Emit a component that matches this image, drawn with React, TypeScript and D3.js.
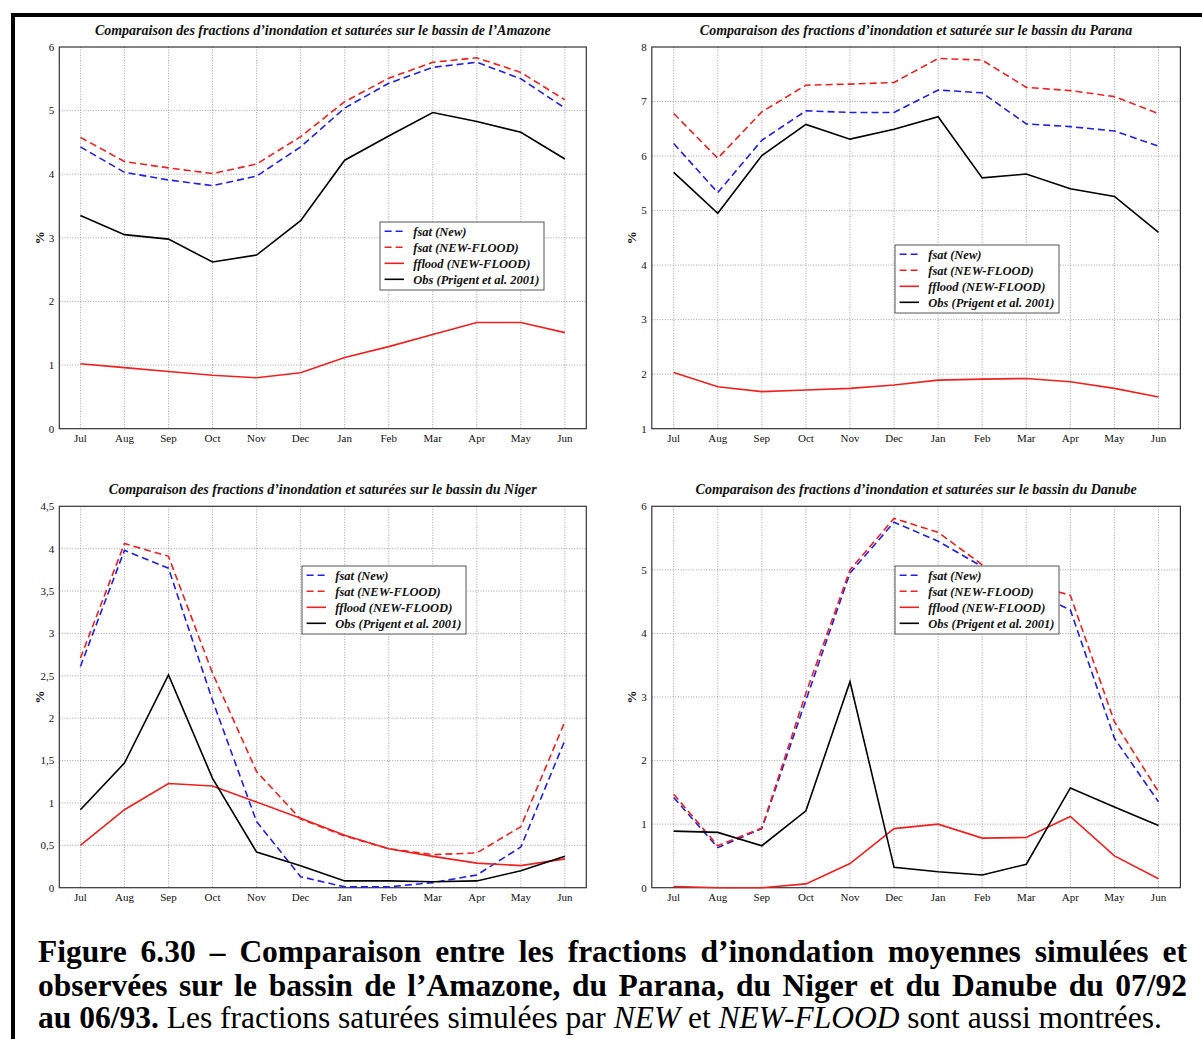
import React, { useEffect, useRef } from "react";
import * as d3 from "d3";

const months = ["Jul", "Aug", "Sep", "Oct", "Nov", "Dec", "Jan", "Feb", "Mar", "Apr", "May", "Jun"];
const seriesLabels = ["fsat (New)", "fsat (NEW-FLOOD)", "fflood (NEW-FLOOD)", "Obs (Prigent et al. 2001)"];

const amazonFsatNew = [4.43, 4.03, 3.91, 3.82, 3.97, 4.43, 5.04, 5.43, 5.68, 5.76, 5.5, 5.04];
const amazonFsatFlood = [4.58, 4.2, 4.1, 4.01, 4.16, 4.59, 5.14, 5.51, 5.76, 5.83, 5.6, 5.17];
const amazonFflood = [1.02, 0.96, 0.9, 0.84, 0.8, 0.88, 1.12, 1.29, 1.48, 1.67, 1.67, 1.51];
const amazonObs = [3.35, 3.05, 2.98, 2.62, 2.73, 3.27, 4.22, 4.6, 4.97, 4.83, 4.66, 4.24];

const paranaFsatNew = [6.23, 5.33, 6.29, 6.83, 6.8, 6.8, 7.21, 7.16, 6.59, 6.54, 6.46, 6.18];
const paranaFsatFlood = [6.78, 5.96, 6.81, 7.3, 7.32, 7.35, 7.79, 7.76, 7.26, 7.2, 7.09, 6.78];
const paranaFflood = [2.03, 1.77, 1.68, 1.71, 1.74, 1.8, 1.89, 1.91, 1.92, 1.86, 1.74, 1.58];
const paranaObs = [5.7, 4.95, 6.01, 6.58, 6.31, 6.49, 6.72, 5.6, 5.67, 5.4, 5.26, 4.6];

const nigerFsatNew = [2.61, 3.98, 3.77, 2.21, 0.78, 0.13, 0.01, 0.01, 0.06, 0.15, 0.48, 1.74];
const nigerFsatFlood = [2.71, 4.06, 3.91, 2.53, 1.37, 0.81, 0.61, 0.46, 0.39, 0.41, 0.72, 1.96];
const nigerFflood = [0.5, 0.92, 1.23, 1.2, 1.01, 0.82, 0.62, 0.46, 0.37, 0.29, 0.26, 0.34];
const nigerObs = [0.92, 1.47, 2.51, 1.29, 0.42, 0.26, 0.08, 0.08, 0.07, 0.08, 0.2, 0.37];

const danubeFsatNew = [1.42, 0.63, 0.93, 2.95, 4.95, 5.75, 5.45, 5.05, 4.7, 4.37, 2.35, 1.35];
const danubeFsatFlood = [1.47, 0.66, 0.94, 3.06, 5.0, 5.81, 5.59, 5.08, 4.8, 4.6, 2.61, 1.51];
const danubeFflood = [0.02, 0.0, 0.0, 0.06, 0.38, 0.93, 1.0, 0.78, 0.79, 1.12, 0.5, 0.14];
const danubeObs = [0.89, 0.87, 0.66, 1.21, 3.24, 0.32, 0.25, 0.2, 0.37, 1.57, 1.27, 0.98];

const amazonTicks = [0, 1, 2, 3, 4, 5, 6];
const paranaTicks = [1, 2, 3, 4, 5, 6, 7, 8];
const nigerTicks = [0, 0.5, 1, 1.5, 2, 2.5, 3, 3.5, 4, 4.5];
const danubeTicks = [0, 1, 2, 3, 4, 5, 6];

const titles = [
  "Comparaison des fractions d\u2019inondation et saturées sur le bassin de l\u2019Amazone",
  "Comparaison des fractions d\u2019inondation et saturée sur le bassin du Parana",
  "Comparaison des fractions d\u2019inondation et saturées sur le bassin du Niger",
  "Comparaison des fractions d\u2019inondation et saturées sur le bassin du Danube",
];

const captionLine1 = "Figure 6.30 \u2013 Comparaison entre les fractions d\u2019inondation moyennes simulées et";
const captionLine2 = "observées sur le bassin de l\u2019Amazone, du Parana, du Niger et du Danube du 07/92";
const captionLine3 = [
  { t: "au 06/93.", w: "bold", s: "normal" },
  { t: " Les fractions saturées simulées par ", w: "normal", s: "normal" },
  { t: "NEW", w: "normal", s: "italic" },
  { t: " et ", w: "normal", s: "normal" },
  { t: "NEW-FLOOD", w: "normal", s: "italic" },
  { t: " sont aussi montrées.", w: "normal", s: "normal" },
];

const FONT = "'Liberation Serif', 'Times New Roman', serif";
const BLUE = "#1f1fe6";
const RED = "#ee2020";
const BLACK = "#000000";

const seriesStyles = [
  { color: BLUE, dash: "7,4" },
  { color: RED, dash: "7,4" },
  { color: RED, dash: null },
  { color: BLACK, dash: null },
];

const panels = [
  { left: 59.3, right: 586.3, top: 47, bottom: 428.7, jul: 80.4, jun: 564.9, ticks: amazonTicks,
    series: [amazonFsatNew, amazonFsatFlood, amazonFflood, amazonObs], legend: [380, 222], titleY: 35 },
  { left: 651.8, right: 1180.4, top: 47, bottom: 428.7, jul: 673.7, jun: 1158.5, ticks: paranaTicks,
    series: [paranaFsatNew, paranaFsatFlood, paranaFflood, paranaObs], legend: [895, 245], titleY: 35 },
  { left: 59.3, right: 586.3, top: 506.3, bottom: 887.7, jul: 80.4, jun: 564.9, ticks: nigerTicks,
    series: [nigerFsatNew, nigerFsatFlood, nigerFflood, nigerObs], legend: [302, 566], titleY: 494 },
  { left: 651.8, right: 1180.4, top: 506.3, bottom: 887.7, jul: 673.7, jun: 1158.5, ticks: danubeTicks,
    series: [danubeFsatNew, danubeFsatFlood, danubeFflood, danubeObs], legend: [895, 566], titleY: 494 },
];

function fmt(v: number) {
  return String(v).replace(".", ",");
}

function drawPanel(svg: any, p: any, title: string) {
  const x = d3.scalePoint<string>().domain(months).range([p.jul, p.jun]);
  const y = d3.scaleLinear().domain([p.ticks[0], p.ticks[p.ticks.length - 1]]).range([p.bottom, p.top]);
  const g = svg.append("g");

  g.append("rect").attr("x", p.left).attr("y", p.top).attr("width", p.right - p.left).attr("height", p.bottom - p.top).attr("fill", "#fff");

  g.selectAll(null).data(months).join("line")
    .attr("x1", (d: string) => x(d)).attr("x2", (d: string) => x(d))
    .attr("y1", p.top).attr("y2", p.bottom)
    .attr("stroke", "#8a8a8a").attr("stroke-width", 0.8).attr("stroke-dasharray", "1,1.6");
  g.selectAll(null).data(p.ticks.slice(1, -1)).join("line")
    .attr("x1", p.left).attr("x2", p.right)
    .attr("y1", (d: number) => y(d)).attr("y2", (d: number) => y(d))
    .attr("stroke", "#8a8a8a").attr("stroke-width", 0.8).attr("stroke-dasharray", "1,1.6");

  g.append("rect").attr("x", p.left).attr("y", p.top).attr("width", p.right - p.left).attr("height", p.bottom - p.top)
    .attr("fill", "none").attr("stroke", "#333").attr("stroke-width", 1.2);

  g.selectAll(null).data(p.ticks).join("text")
    .attr("x", p.left - 5).attr("y", (d: number) => y(d)).attr("dy", "0.35em")
    .attr("text-anchor", "end").attr("font-family", FONT).attr("font-size", 11).attr("fill", "#111")
    .text((d: number) => fmt(d));

  g.selectAll(null).data(months).join("text")
    .attr("x", (d: string) => x(d)).attr("y", p.bottom + 13)
    .attr("text-anchor", "middle").attr("font-family", FONT).attr("font-size", 11).attr("fill", "#111")
    .text((d: string) => d);

  g.append("text")
    .attr("transform", `translate(${p.left - 20},${(p.top + p.bottom) / 2}) rotate(-90)`)
    .attr("text-anchor", "middle").attr("dy", "0.35em")
    .attr("font-family", FONT).attr("font-size", 13).attr("font-weight", "bold").attr("fill", "#111")
    .text("%");

  g.append("text")
    .attr("x", (p.left + p.right) / 2).attr("y", p.titleY)
    .attr("text-anchor", "middle").attr("font-family", FONT).attr("font-size", 14)
    .attr("font-weight", "bold").attr("font-style", "italic").attr("fill", "#111")
    .text(title);

  const line = d3.line<number>().x((_d, i) => x(months[i]) as number).y((d) => y(d));
  p.series.forEach((s: number[], i: number) => {
    const st = seriesStyles[i];
    g.append("path").attr("d", line(s)).attr("fill", "none")
      .attr("stroke", st.color).attr("stroke-width", 1.6)
      .attr("stroke-dasharray", st.dash ?? null);
  });

  const [lx, ly] = p.legend;
  const lg = g.append("g").attr("transform", `translate(${lx},${ly})`);
  lg.append("rect").attr("width", 164).attr("height", 68).attr("fill", "#fff").attr("stroke", "#555").attr("stroke-width", 1);
  seriesLabels.forEach((lab, i) => {
    const cy = 9.3 + i * 16;
    const st = seriesStyles[i];
    lg.append("line").attr("x1", 4.6).attr("x2", 24).attr("y1", cy).attr("y2", cy)
      .attr("stroke", st.color).attr("stroke-width", 1.6).attr("stroke-dasharray", st.dash ?? null);
    lg.append("text").attr("x", 33.3).attr("y", cy).attr("dy", "0.35em")
      .attr("font-family", FONT).attr("font-size", 12.5).attr("font-weight", "bold").attr("font-style", "italic")
      .attr("fill", "#111").text(lab);
  });
}

function drawJustified(svg: any, text: string, x0: number, x1: number, yb: number, size: number) {
  const words = text.split(" ");
  const nodes = words.map((w) =>
    svg.append("text").attr("y", yb).attr("font-family", FONT).attr("font-size", size)
      .attr("font-weight", "bold").attr("fill", "#000").text(w)
  );
  const widths = nodes.map((n: any) => (n.node() as SVGTextElement).getComputedTextLength());
  const total = d3.sum(widths);
  const gap = (x1 - x0 - total) / (words.length - 1);
  let cx = x0;
  nodes.forEach((n: any, i: number) => {
    n.attr("x", cx);
    cx += widths[i] + gap;
  });
}

export default function App() {
  const ref = useRef<SVGSVGElement | null>(null);
  useEffect(() => {
    const svg = d3.select(ref.current);
    svg.selectAll("*").remove();
    svg.append("rect").attr("width", 1202).attr("height", 1039).attr("fill", "#fff");
    // frame
    svg.append("line").attr("x1", 11).attr("x2", 1202).attr("y1", 15).attr("y2", 15).attr("stroke", "#000").attr("stroke-width", 4);
    svg.append("line").attr("x1", 13).attr("x2", 13).attr("y1", 13).attr("y2", 1039).attr("stroke", "#000").attr("stroke-width", 4);

    panels.forEach((p, i) => drawPanel(svg, p, titles[i]));

    const size = 31.5;
    drawJustified(svg, captionLine1, 38, 1187, 962, size);
    drawJustified(svg, captionLine2, 38, 1187, 996, size);
    const t3 = svg.append("text").attr("x", 38).attr("y", 1028).attr("font-family", FONT).attr("font-size", size).attr("fill", "#000")
      .attr("xml:space", "preserve").style("white-space", "pre");
    captionLine3.forEach((seg) => {
      t3.append("tspan").attr("font-weight", seg.w).attr("font-style", seg.s).text(seg.t);
    });
  }, []);
  return (
    <svg ref={ref} width={1202} height={1039} style={{ position: "absolute", left: 0, top: 0 }} />
  );
}
